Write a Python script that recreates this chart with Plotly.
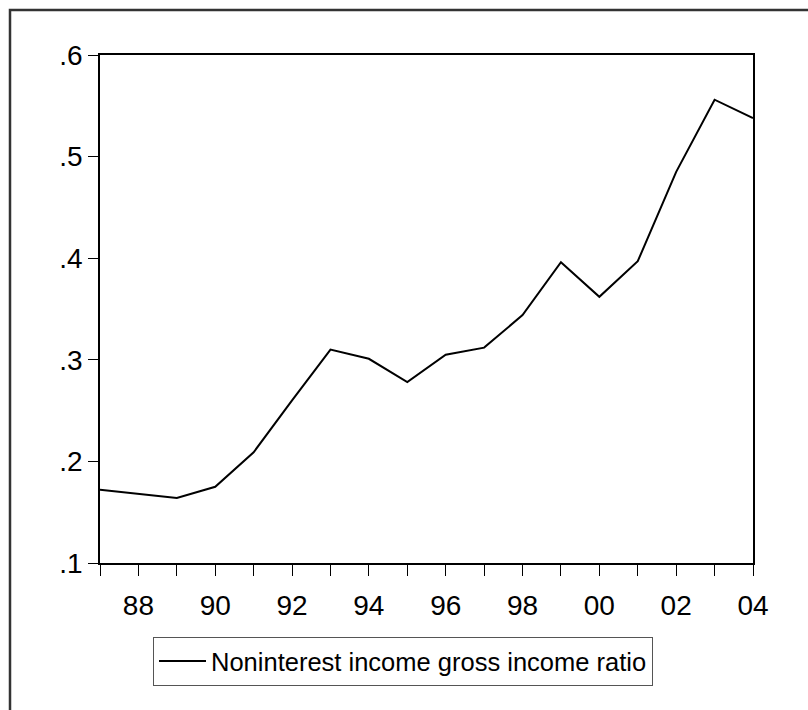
import plotly.graph_objects as go

# Annual observations, 1987-2004
years = list(range(1987, 2005))
ratio = [0.172, 0.168, 0.164, 0.175, 0.209, 0.260, 0.310, 0.301, 0.278,
         0.305, 0.312, 0.344, 0.396, 0.362, 0.397, 0.485, 0.556, 0.538]

series_name = "Noninterest income gross income ratio"

# Tick labels: every year gets a tick, even years get a two-digit label
x_tickvals = years
x_ticktext = [f"{y % 100:02d}" if y % 2 == 0 else "" for y in years]
y_tickvals = [0.1, 0.2, 0.3, 0.4, 0.5, 0.6]
y_ticktext = [".1", ".2", ".3", ".4", ".5", ".6"]

W, H = 808, 710
ML, MR, MT, MB = 100, 55, 55, 147
PW, PH = W - ML - MR, H - MT - MB

FONT = "Arial, Liberation Sans, sans-serif"

fig = go.Figure()
fig.add_trace(go.Scatter(
    x=years, y=ratio, mode="lines", name=series_name,
    line=dict(color="black", width=2),
    showlegend=True,
))

fig.update_layout(
    width=W, height=H,
    margin=dict(l=ML, r=MR, t=MT, b=MB, pad=0),
    paper_bgcolor="white", plot_bgcolor="white",
    font=dict(family=FONT, color="black", size=28),
    showlegend=True,
    legend=dict(
        x=(153 - ML) / PW, xanchor="left",
        y=(H - MB - 637) / PH, yanchor="top",
        bordercolor="#555555", borderwidth=1,
        bgcolor="white",
        font=dict(family=FONT, size=25.5, color="black"),
        itemwidth=47,
    ),
)

fig.update_xaxes(
    range=[1987, 2004], tickmode="array",
    tickvals=x_tickvals, ticktext=x_ticktext,
    ticks="outside", ticklen=11, tickwidth=1.2, tickcolor="black",
    ticklabelstandoff=6,
    showline=True, linecolor="black", linewidth=1.5, mirror=True,
    showgrid=False, zeroline=False,
    tickfont=dict(family=FONT, size=28, color="black"),
)
fig.update_yaxes(
    range=[0.1, 0.6], tickmode="array",
    tickvals=y_tickvals, ticktext=y_ticktext,
    ticks="outside", ticklen=10, tickwidth=1.2, tickcolor="black",
    showline=True, linecolor="black", linewidth=1.5, mirror=True,
    showgrid=False, zeroline=False,
    tickfont=dict(family=FONT, size=28, color="black"),
)

# Outer frame around the whole graphic
fig.add_shape(
    type="rect", xref="paper", yref="paper",
    x0=(10 - ML) / PW, x1=(830 - ML) / PW,
    y0=(H - MB - 730) / PH, y1=(H - MB - 10) / PH,
    line=dict(color="#333333", width=2.5), fillcolor="rgba(0,0,0,0)",
    layer="below",
)

fig.write_html("out.html")
